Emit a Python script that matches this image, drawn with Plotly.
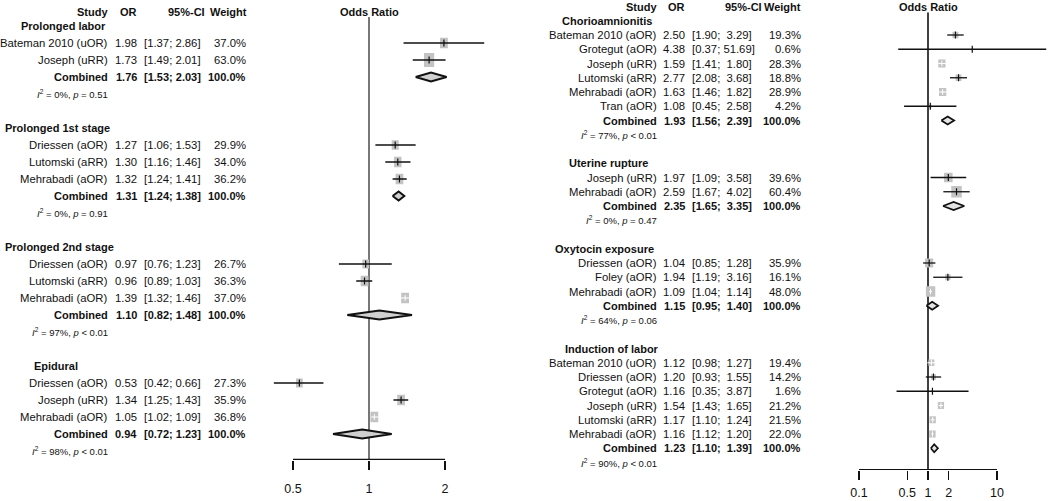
import math
import plotly.graph_objects as go

W, H = 1050, 501
FONT = "Liberation Sans, Arial, Helvetica, sans-serif"

# ---------------- data: left panel ----------------
left_group = ["Prolonged labor", "Prolonged 1st stage", "Prolonged 2nd stage", "Epidural"]
left_study = [
    ["Bateman 2010 (uOR)", "Joseph (uRR)"],
    ["Driessen (aOR)", "Lutomski (aRR)", "Mehrabadi (aOR)"],
    ["Driessen (aOR)", "Lutomski (aRR)", "Mehrabadi (aOR)"],
    ["Driessen (aOR)", "Joseph (uRR)", "Mehrabadi (aOR)"],
]
left_or = [[1.98, 1.73], [1.27, 1.30, 1.32], [0.97, 0.96, 1.39], [0.53, 1.34, 1.05]]
left_lo = [[1.37, 1.49], [1.06, 1.16, 1.24], [0.76, 0.89, 1.32], [0.42, 1.25, 1.02]]
left_hi = [[2.86, 2.01], [1.53, 1.46, 1.41], [1.23, 1.03, 1.46], [0.66, 1.43, 1.09]]
left_weight = [[37.0, 63.0], [29.9, 34.0, 36.2], [26.7, 36.3, 37.0], [27.3, 35.9, 36.8]]
left_comb_or = [1.76, 1.31, 1.10, 0.94]
left_comb_lo = [1.53, 1.24, 0.82, 0.72]
left_comb_hi = [2.03, 1.38, 1.48, 1.23]
left_i2 = [0, 0, 97, 98]
left_p = ["= 0.51", "= 0.91", "< 0.01", "< 0.01"]
left_ticks = [0.5, 1, 2]

# ---------------- data: right panel ----------------
right_group = ["Chorioamnionitis", "Uterine rupture", "Oxytocin exposure", "Induction of labor"]
right_study = [
    ["Bateman 2010 (aOR)", "Grotegut (aOR)", "Joseph (uRR)", "Lutomski (aRR)", "Mehrabadi (aOR)", "Tran (aOR)"],
    ["Joseph (uRR)", "Mehrabadi (aOR)"],
    ["Driessen (aOR)", "Foley (aOR)", "Mehrabadi (aOR)"],
    ["Bateman 2010 (uOR)", "Driessen (aOR)", "Grotegut (aOR)", "Joseph (uRR)", "Lutomski (aRR)", "Mehrabadi (aOR)"],
]
right_or = [[2.50, 4.38, 1.59, 2.77, 1.63, 1.08], [1.97, 2.59], [1.04, 1.94, 1.09],
            [1.12, 1.20, 1.16, 1.54, 1.17, 1.16]]
right_lo = [[1.90, 0.37, 1.41, 2.08, 1.46, 0.45], [1.09, 1.67], [0.85, 1.19, 1.04],
            [0.98, 0.93, 0.35, 1.43, 1.10, 1.12]]
right_hi = [[3.29, 51.69, 1.80, 3.68, 1.82, 2.58], [3.58, 4.02], [1.28, 3.16, 1.14],
            [1.27, 1.55, 3.87, 1.65, 1.24, 1.20]]
right_weight = [[19.3, 0.6, 28.3, 18.8, 28.9, 4.2], [39.6, 60.4], [35.9, 16.1, 48.0],
                [19.4, 14.2, 1.6, 21.2, 21.5, 22.0]]
right_comb_or = [1.93, 2.35, 1.15, 1.23]
right_comb_lo = [1.56, 1.65, 0.95, 1.10]
right_comb_hi = [2.39, 3.35, 1.40, 1.39]
right_i2 = [77, 0, 64, 90]
right_p = ["< 0.01", "= 0.47", "= 0.06", "< 0.01"]
right_ticks = [0.1, 0.5, 1, 2, 10]

# ---------------- panel layout settings (pixels) ----------------
left_cfg = dict(
    xa="x", ya="y", px_one=369, px_dec=252.5, dom=(260, 512), row0=26, row_px=17,
    ybot=460, head_row=-0.8, title_row=-0.85, ref_top=-0.53, axis_row=25.5,
    study_x=108, or_x=137, ci_x=144, w_x=246, hdr_ci_x=205, hdr_w_x=247,
    heading_x=[21, 5, 5, 34], box_k=1.76, box_aspect=0.73, dia_h=9,
    dia_fill="#d0d0d0", dia_w=2.0, ref_col="#555555", ci_w=1.5, pad_ci=False,
    tick_standoff=8,
)
right_cfg = dict(
    xa="x2", ya="y2", px_one=928, px_dec=69.0, dom=(850, 1050), row0=20.75, row_px=14.25,
    ybot=470, head_row=-0.97, title_row=-0.97, ref_top=-0.58, axis_row=31.5,
    study_x=657, or_x=685, ci_x=692, w_x=801, hdr_ci_x=762, hdr_w_x=801,
    heading_x=[562, 569, 555, 565], box_k=1.5, box_aspect=0.9, dia_h=8,
    dia_fill="#e4e4e4", dia_w=1.8, ref_col="#111111", ci_w=1.3, pad_ci=True,
    tick_standoff=2,
)

TXT = 11.3
BOLD = 11
HET = 9.5
NB = "\u00a0"

fig = go.Figure()
annotations = []


def ann(text, px, row, cfg, anchor, size=TXT, bold=False):
    if bold:
        text = "<b>" + text + "</b>"
        size = BOLD
    annotations.append(dict(
        text=text, x=px / W, xref="paper", y=row, yref=cfg["ya"],
        xanchor=anchor, yanchor="middle", showarrow=False,
        font=dict(family=FONT, size=size, color="#111111"),
        borderpad=0, borderwidth=0,
    ))


def fmt_ci(lo, hi, pad):
    if pad:
        return ("[%.2f; %5.2f]" % (lo, hi)).replace(" ", NB)
    return "[%.2f; %.2f]" % (lo, hi)


def build(cfg, groups, studies, ors, los, his, ws, c_or, c_lo, c_hi, i2s, ps, ticks):
    xa, ya = cfg["xa"], cfg["ya"]
    dec_per_px = 1.0 / cfg["px_dec"]
    row_per_px = 1.0 / cfg["row_px"]

    # header
    ann("Study", cfg["study_x"], cfg["head_row"], cfg, "right", bold=True)
    ann("OR", cfg["or_x"], cfg["head_row"], cfg, "right", bold=True)
    ann("95%-CI", cfg["hdr_ci_x"], cfg["head_row"], cfg, "right", bold=True)
    ann("Weight", cfg["hdr_w_x"], cfg["head_row"], cfg, "right", bold=True)
    annotations.append(dict(
        text="<b>Odds Ratio</b>", x=0, xref=xa, y=cfg["title_row"], yref=ya,
        xanchor="center", yanchor="middle", showarrow=False,
        font=dict(family=FONT, size=BOLD, color="#111111"), borderpad=0, borderwidth=0,
    ))

    box_x, box_y = [], []
    ci_bx, ci_by, ci_wx, ci_wy = [], [], [], []
    tk_b_x, tk_b_y, tk_w_x, tk_w_y = [], [], [], []
    dia_x, dia_y = [], []

    r = 0
    for g in range(len(groups)):
        ann(groups[g], cfg["heading_x"][g], r, cfg, "left", bold=True)
        for i, name in enumerate(studies[g]):
            row = r + 1 + i
            o, lo, hi, w = ors[g][i], los[g][i], his[g][i], ws[g][i]
            ann(name, cfg["study_x"], row, cfg, "right")
            ann("%.2f" % o, cfg["or_x"], row, cfg, "right")
            ann(fmt_ci(lo, hi, cfg["pad_ci"]), cfg["ci_x"], row, cfg, "left")
            ann("%.1f%%" % w, cfg["w_x"], row, cfg, "right")
            # box
            hpx = cfg["box_k"] * math.sqrt(w)
            wpx = hpx * cfg["box_aspect"]
            hx = (wpx / 2) * dec_per_px
            hy = (hpx / 2) * row_per_px
            x0, x1 = o * 10 ** (-hx), o * 10 ** hx
            box_x += [x0, x1, x1, x0, x0, None]
            box_y += [row - hy, row - hy, row + hy, row + hy, row - hy, None]
            ci_px = cfg["px_dec"] * (math.log10(hi) - math.log10(lo))
            if ci_px < 1.45 * wpx:
                ci_wx += [lo, hi, None]; ci_wy += [row, row, None]
                tk_w_x.append(o); tk_w_y.append(row)
            else:
                ci_bx += [lo, hi, None]; ci_by += [row, row, None]
                tk_b_x.append(o); tk_b_y.append(row)
        crow = r + 1 + len(studies[g])
        ann("Combined", cfg["study_x"], crow, cfg, "right", bold=True)
        ann("%.2f" % c_or[g], cfg["or_x"], crow, cfg, "right", bold=True)
        ann(fmt_ci(c_lo[g], c_hi[g], cfg["pad_ci"]), cfg["ci_x"], crow, cfg, "left", bold=True)
        ann("100.0%", cfg["w_x"], crow, cfg, "right", bold=True)
        dh = (cfg["dia_h"] / 2) * row_per_px
        dia_x += [c_lo[g], c_or[g], c_hi[g], c_or[g], c_lo[g], None]
        dia_y += [crow, crow - dh, crow, crow + dh, crow, None]
        het = "<i>I</i><sup>2</sup> = %d%%, <i>p</i> %s" % (i2s[g], ps[g])
        ann(het, cfg["study_x"], crow + 1, cfg, "right", size=HET)
        r = crow + 3

    common = dict(xaxis=xa, yaxis=ya, showlegend=False, hoverinfo="skip")
    fig.add_trace(go.Scatter(x=[1, 1], y=[cfg["ref_top"], cfg["axis_row"]], mode="lines",
                             line=dict(color=cfg["ref_col"], width=1.6), **common))
    fig.add_trace(go.Scatter(x=[ticks[0], ticks[-1]], y=[cfg["axis_row"], cfg["axis_row"]],
                             mode="lines", line=dict(color="#111111", width=1.4), **common))
    fig.add_trace(go.Scatter(x=box_x, y=box_y, mode="lines", fill="toself",
                             fillcolor="#c3c3c3", line=dict(width=0, color="#c3c3c3"), **common))
    fig.add_trace(go.Scatter(x=ci_bx, y=ci_by, mode="lines",
                             line=dict(color="#111111", width=cfg["ci_w"]), **common))
    fig.add_trace(go.Scatter(x=ci_wx, y=ci_wy, mode="lines",
                             line=dict(color="#ffffff", width=1.1), **common))
    fig.add_trace(go.Scatter(x=tk_b_x, y=tk_b_y, mode="markers",
                             marker=dict(symbol="line-ns", size=5, line=dict(color="#111111", width=1.2)),
                             **common))
    fig.add_trace(go.Scatter(x=tk_w_x, y=tk_w_y, mode="markers",
                             marker=dict(symbol="line-ns", size=4, line=dict(color="#ffffff", width=1)),
                             **common))
    fig.add_trace(go.Scatter(x=dia_x, y=dia_y, mode="lines", fill="toself",
                             fillcolor=cfg["dia_fill"], line=dict(color="#111111", width=cfg["dia_w"]),
                             **common))

    lo_dec = (cfg["dom"][0] - cfg["px_one"]) * dec_per_px
    hi_dec = (cfg["dom"][1] - cfg["px_one"]) * dec_per_px
    xaxis = dict(
        type="log", range=[lo_dec, hi_dec], domain=[cfg["dom"][0] / W, cfg["dom"][1] / W],
        anchor=ya, showline=False, showgrid=False, zeroline=False,
        tickvals=ticks, ticktext=[("%g" % t) for t in ticks], ticks="outside", ticklen=9,
        tickwidth=1.3, tickcolor="#111111", ticklabelstandoff=cfg["tick_standoff"],
        tickfont=dict(family=FONT, size=12.5, color="#111111"), fixedrange=True,
    )
    top_row = -cfg["row0"] * row_per_px
    bot_row = (cfg["ybot"] - cfg["row0"]) * row_per_px
    yaxis = dict(range=[bot_row, top_row], domain=[1 - cfg["ybot"] / H, 1], anchor=xa,
                 visible=False, showgrid=False, zeroline=False, fixedrange=True)
    return xaxis, yaxis


xl, yl = build(left_cfg, left_group, left_study, left_or, left_lo, left_hi, left_weight,
               left_comb_or, left_comb_lo, left_comb_hi, left_i2, left_p, left_ticks)
xr, yr = build(right_cfg, right_group, right_study, right_or, right_lo, right_hi, right_weight,
               right_comb_or, right_comb_lo, right_comb_hi, right_i2, right_p, right_ticks)

fig.update_layout(
    width=W, height=H, margin=dict(l=0, r=0, t=0, b=0),
    paper_bgcolor="white", plot_bgcolor="white",
    xaxis=xl, yaxis=yl, xaxis2=xr, yaxis2=yr,
    annotations=annotations, font=dict(family=FONT, size=TXT, color="#111111"),
)

fig.write_html(
    "out.html",
    config={"displayModeBar": False, "staticPlot": True},
    post_script="document.body.style.margin='0px';document.body.style.overflow='hidden';",
)
